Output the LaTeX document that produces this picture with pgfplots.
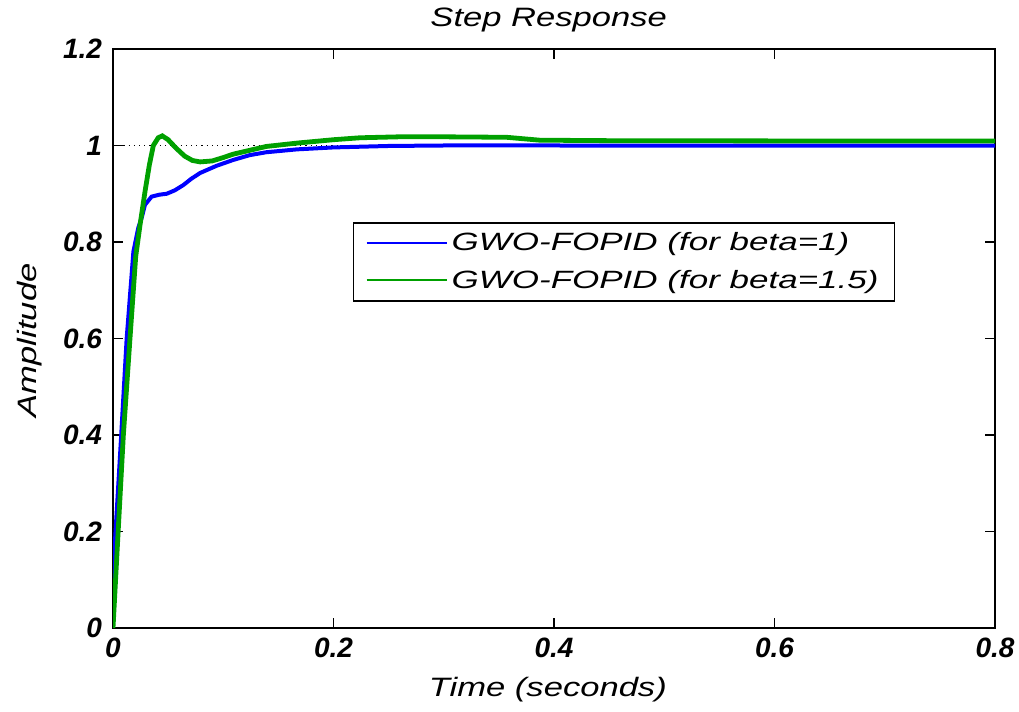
\documentclass[border=0pt]{standalone}
\usepackage{fontspec}
\setmainfont{Liberation Sans}
\newfontfamily\widefont[FakeStretch=1.3]{Liberation Sans}
\newfontfamily\legfont[FakeStretch=1.4]{Liberation Sans}
\usepackage{pgfplots}
\pgfplotsset{compat=1.18}
\definecolor{mblue}{RGB}{0,0,255}
\definecolor{mgreen}{RGB}{0,160,0}
\begin{document}
\begin{tikzpicture}
\begin{axis}[
  scale only axis,
  width=441pt, height=289.5pt,
  xmin=0, xmax=0.8, ymin=0, ymax=1.2,
  xtick={0,0.2,0.4,0.6,0.8},
  ytick={0,0.2,0.4,0.6,0.8,1,1.2},
  xticklabels={0,0.2,0.4,0.6,0.8},
  yticklabels={0,0.2,0.4,0.6,0.8,1,1.2},
  tick align=inside,
  xtick pos=both, ytick pos=both,
  major tick length=5pt,
  tick style={black, line width=0.8pt},
  axis line style={black, line width=1pt},
  /pgf/number format/assume math mode=true,
  ticklabel style={font=\fontsize{14}{16}\selectfont\bfseries\itshape},
  yticklabel style={xshift=-2pt},
  xticklabel style={yshift=-1.5pt},
  every axis title shift=0pt,
  title={Step Response},
  title style={at={(axis description cs:0.494,1.05)}, anchor=center, font=\widefont\fontsize{13.3}{15}\selectfont\itshape},
  xlabel={Time (seconds)},
  xlabel style={at={(axis description cs:0.493,-0.107)}, anchor=center, font=\widefont\fontsize{13.3}{15}\selectfont\itshape},
  ylabel={Amplitude},
  ylabel style={at={(axis description cs:-0.094,0.497)}, anchor=center, font=\widefont\fontsize{13.3}{15}\selectfont\itshape},
  legend style={at={(rel axis cs:0.272,0.701)}, anchor=north west, draw=black, line width=0.7pt,
    font=\legfont\fontsize{12.5}{14}\selectfont\itshape, inner xsep=6pt, inner ysep=3pt,
    row sep=4pt, cells={anchor=west}},
  legend image code/.code={\draw[#1, line width=1pt] (0pt,0pt) -- (40pt,0pt);},
  clip=true,
]
\coordinate (sw) at (rel axis cs:0,0);
\coordinate (ne) at (rel axis cs:1,1);
\addplot[black, dotted, line width=0.6pt, forget plot] coordinates {(0,1) (0.8,1)};
\addplot[mblue, line width=2pt] coordinates {
(0,0.03) (0.0018,0.18) (0.0072,0.39) (0.0124,0.60) (0.0185,0.78) (0.023,0.83)
(0.026,0.85) (0.029,0.877) (0.035,0.894) (0.042,0.898) (0.0487,0.900) (0.056,0.907)
(0.0638,0.918) (0.071,0.931) (0.079,0.943) (0.094,0.958) (0.109,0.970) (0.124,0.980)
(0.139,0.986) (0.167,0.992) (0.2,0.996) (0.25,0.999) (0.3,1.0) (0.4,1.0) (0.6,0.9995) (0.8,0.9995)
};
\addlegendentry{GWO-FOPID (for beta=1)}
\addplot[mgreen, line width=2.4pt] coordinates {
(0,0) (0.0042,0.18) (0.0094,0.40) (0.0154,0.60) (0.0206,0.77) (0.0245,0.835)
(0.029,0.904) (0.033,0.96) (0.0366,1.0) (0.041,1.016) (0.0447,1.02) (0.05,1.012)
(0.057,0.995) (0.065,0.978) (0.072,0.969) (0.079,0.966) (0.09,0.968) (0.1,0.975)
(0.109,0.982) (0.124,0.990) (0.139,0.998) (0.167,1.005) (0.2,1.012) (0.224,1.016)
(0.26,1.018) (0.3,1.018) (0.357,1.017) (0.387,1.011) (0.45,1.01) (0.6,1.0095) (0.8,1.0095)
};
\addlegendentry{GWO-FOPID (for beta=1.5)}
\end{axis}
\pgfresetboundingbox
\path[use as bounding box] ([xshift=-56.5pt,yshift=-41.5pt]sw) rectangle ([xshift=12pt,yshift=24.5pt]ne);
\end{tikzpicture}
\end{document}
